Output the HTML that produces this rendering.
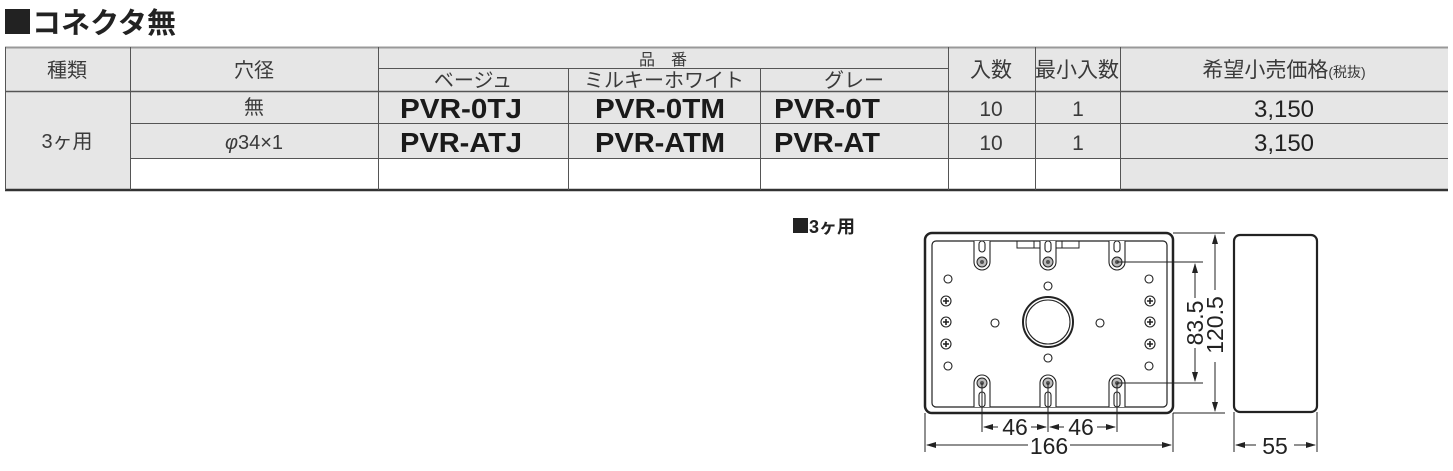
<!DOCTYPE html>
<html><head><meta charset="utf-8"><style>
html,body{margin:0;padding:0;background:#fff;}
svg{display:block;}
text{font-family:"Liberation Sans","Noto Sans CJK JP",sans-serif;fill:#2a2a2a;}
.h{font-size:20px;text-anchor:middle;fill:#3a3a3a;}
.b{font-size:28px;font-weight:bold;text-anchor:middle;fill:#1a1a1a;}
.n{font-size:21px;text-anchor:middle;fill:#3a3a3a;}
.p{font-size:24px;text-anchor:middle;fill:#222;}
.d{font-size:23px;text-anchor:middle;fill:#222;}
</style></head><body>
<svg width="1453" height="471" viewBox="0 0 1453 471" xmlns="http://www.w3.org/2000/svg">
<rect x="5" y="9" width="25" height="25" fill="#222"/>
<text x="32" y="33" style="font-size:29px;font-weight:bold;fill:#222" textLength="144" lengthAdjust="spacingAndGlyphs">コネクタ無</text>
<rect x="5" y="47" width="1443" height="111" fill="#e6e6e6"/>
<rect x="5" y="158" width="125" height="31" fill="#e6e6e6"/>
<rect x="1120" y="158" width="328" height="31" fill="#e6e6e6"/>
<g stroke="#555" stroke-width="1" fill="none">
<line x1="5" y1="47.5" x2="1448" y2="47.5" stroke="#999" stroke-width="2"/>
<line x1="378" y1="68.5" x2="948" y2="68.5"/>
<line x1="5" y1="91.5" x2="1448" y2="91.5" stroke-width="1.5"/>
<line x1="130" y1="123.5" x2="1448" y2="123.5"/>
<line x1="130" y1="158.5" x2="1448" y2="158.5"/>
<line x1="5" y1="190" x2="1448" y2="190" stroke="#333" stroke-width="2.5"/>
<line x1="5.5" y1="47" x2="5.5" y2="190"/>
<line x1="130.5" y1="47" x2="130.5" y2="190"/>
<line x1="378.5" y1="47" x2="378.5" y2="190"/>
<line x1="568.5" y1="68" x2="568.5" y2="190"/>
<line x1="760.5" y1="68" x2="760.5" y2="190"/>
<line x1="948.5" y1="47" x2="948.5" y2="190"/>
<line x1="1035.5" y1="47" x2="1035.5" y2="190"/>
<line x1="1120.5" y1="47" x2="1120.5" y2="190"/>
</g>
<text class="h" x="67" y="77">種類</text>
<text class="h" x="254" y="77">穴径</text>
<text class="h" x="663" y="65" style="font-size:16px">品　番</text>
<text class="h" x="473" y="87">ベージュ</text>
<text class="h" x="664" y="87">ミルキーホワイト</text>
<text class="h" x="854" y="87">グレー</text>
<text class="h" x="991" y="77" style="font-size:21px">入数</text>
<text class="h" x="1077" y="77" style="font-size:21px">最小入数</text>
<text class="h" x="1284" y="77" style="font-size:21px">希望小売価格<tspan style="font-size:14px">(税抜)</tspan></text>
<text class="h" x="67" y="148">3ヶ用</text>
<text class="h" x="254" y="114">無</text>
<text class="h" x="254" y="149"><tspan font-style="italic">φ</tspan>34×1</text>
<text class="b" x="461" y="118" textLength="122" lengthAdjust="spacingAndGlyphs">PVR-0TJ</text>
<text class="b" x="660" y="118" textLength="130" lengthAdjust="spacingAndGlyphs">PVR-0TM</text>
<text class="b" x="827" y="118" textLength="106" lengthAdjust="spacingAndGlyphs">PVR-0T</text>
<text class="b" x="461" y="152" textLength="122" lengthAdjust="spacingAndGlyphs">PVR-ATJ</text>
<text class="b" x="660" y="152" textLength="130" lengthAdjust="spacingAndGlyphs">PVR-ATM</text>
<text class="b" x="827" y="152" textLength="106" lengthAdjust="spacingAndGlyphs">PVR-AT</text>
<text class="n" x="991" y="116">10</text><text class="n" x="1078" y="116">1</text>
<text class="n" x="991" y="150">10</text><text class="n" x="1078" y="150">1</text>
<text class="p" x="1284" y="117">3,150</text>
<text class="p" x="1284" y="151">3,150</text>
<rect x="793" y="218" width="15" height="15" fill="#222"/>
<text x="809" y="233" style="font-size:18px;font-weight:bold;fill:#222">3ヶ用</text>
<g fill="none" stroke="#222">
<rect x="925" y="233" width="248" height="180" rx="7" stroke-width="2.5"/>
<rect x="932" y="241" width="235" height="166" rx="4" stroke-width="1.2"/>
<path d="M1017 241 v7 h62 v-7" stroke-width="1"/>
<line x1="1034" y1="241" x2="1034" y2="248"/><line x1="1062" y1="241" x2="1062" y2="248"/>
</g>
<g fill="#fff" stroke="#222" stroke-width="1.1">
<path d="M974 241 v21 a8 8 0 0 0 16 0 v-21"/>
<path d="M1040 241 v21 a8 8 0 0 0 16 0 v-21"/>
<path d="M1109 241 v21 a8 8 0 0 0 16 0 v-21"/>
<rect x="979" y="241" width="6" height="11" rx="3"/>
<rect x="1045" y="241" width="6" height="11" rx="3"/>
<rect x="1114" y="241" width="6" height="11" rx="3"/>
<path d="M974 407 v-24 a8 8 0 0 1 16 0 v24"/>
<path d="M1040 407 v-24 a8 8 0 0 1 16 0 v24"/>
<path d="M1109 407 v-24 a8 8 0 0 1 16 0 v24"/>
<rect x="979" y="392" width="6" height="15" rx="3"/>
<rect x="1045" y="392" width="6" height="15" rx="3"/>
<rect x="1114" y="392" width="6" height="15" rx="3"/>
</g>
<g fill="#bbb" stroke="#222" stroke-width="1">
<circle cx="982" cy="262" r="5"/><circle cx="1048" cy="262" r="5"/><circle cx="1117" cy="262" r="5"/>
<circle cx="982" cy="383" r="5"/><circle cx="1048" cy="383" r="5"/><circle cx="1117" cy="383" r="5"/>
</g>
<g fill="#555"><circle cx="982" cy="262" r="2"/><circle cx="1048" cy="262" r="2"/><circle cx="1117" cy="262" r="2"/>
<circle cx="982" cy="383" r="2"/><circle cx="1048" cy="383" r="2"/><circle cx="1117" cy="383" r="2"/></g>
<g fill="none" stroke="#222" stroke-width="1.1">
<circle cx="1048" cy="322" r="25" stroke-width="2"/><circle cx="1048" cy="322" r="22"/>
<circle cx="948" cy="279" r="4"/><circle cx="948" cy="366" r="4"/>
<circle cx="1149" cy="279" r="4"/><circle cx="1149" cy="366" r="4"/>
<circle cx="1048" cy="286" r="4"/><circle cx="1048" cy="358" r="4"/>
<circle cx="995" cy="323" r="4"/><circle cx="1100" cy="323" r="4"/>
<circle cx="946" cy="301" r="5"/><circle cx="946" cy="322" r="5"/><circle cx="946" cy="344" r="5"/>
<circle cx="1150" cy="301" r="5"/><circle cx="1150" cy="322" r="5"/><circle cx="1150" cy="344" r="5"/>
</g>
<g stroke="#222" stroke-width="1.6"><path d="M943 301h6M946 298v6M943 322h6M946 319v6M943 344h6M946 341v6M1147 301h6M1150 298v6M1147 322h6M1150 319v6M1147 344h6M1150 341v6"/></g>
<rect x="1234" y="235" width="83" height="177" rx="6" fill="none" stroke="#222" stroke-width="2.2"/>
<g stroke="#222" stroke-width="1" fill="none">
<line x1="1117" y1="262" x2="1203" y2="262"/><line x1="1117" y1="383" x2="1203" y2="383"/>
<line x1="1195" y1="264" x2="1195" y2="298"/><line x1="1195" y1="348" x2="1195" y2="381"/>
<line x1="1173" y1="233" x2="1225" y2="233"/><line x1="1173" y1="413" x2="1225" y2="413"/>
<line x1="1215" y1="235" x2="1215" y2="290"/><line x1="1215" y1="362" x2="1215" y2="411"/>
<line x1="982" y1="383" x2="982" y2="432"/><line x1="1048" y1="383" x2="1048" y2="432"/><line x1="1117" y1="383" x2="1117" y2="432"/>
<line x1="984" y1="427" x2="998" y2="427"/><line x1="1031" y1="427" x2="1046" y2="427"/>
<line x1="1050" y1="427" x2="1064" y2="427"/><line x1="1097" y1="427" x2="1115" y2="427"/>
<line x1="925" y1="413" x2="925" y2="452"/><line x1="1173" y1="413" x2="1173" y2="452"/>
<line x1="927" y1="445" x2="1028" y2="445"/><line x1="1070" y1="445" x2="1171" y2="445"/>
<line x1="1234" y1="412" x2="1234" y2="452"/><line x1="1317" y1="412" x2="1317" y2="452"/>
<line x1="1236" y1="445" x2="1256" y2="445"/><line x1="1294" y1="445" x2="1315" y2="445"/>
</g>
<g fill="#222">
<path d="M1195 263 l-3 10 h6z"/><path d="M1195 382 l-3 -10 h6z"/>
<path d="M1215 234 l-3 10 h6z"/><path d="M1215 412 l-3 -10 h6z"/>
<path d="M983 427 l10 -3 v6z"/><path d="M1047 427 l-10 -3 v6z"/>
<path d="M1049 427 l10 -3 v6z"/><path d="M1116 427 l-10 -3 v6z"/>
<path d="M926 445 l10 -3 v6z"/><path d="M1172 445 l-10 -3 v6z"/>
<path d="M1235 445 l10 -3 v6z"/><path d="M1316 445 l-10 -3 v6z"/>
</g>
<text class="d" x="1015" y="435">46</text>
<text class="d" x="1081" y="435">46</text>
<text class="d" x="1049" y="454">166</text>
<text class="d" x="1275" y="454">55</text>
<text class="d" transform="translate(1203 323) rotate(-90)">83.5</text>
<text class="d" transform="translate(1223 325) rotate(-90)">120.5</text>
</svg>
</body></html>
